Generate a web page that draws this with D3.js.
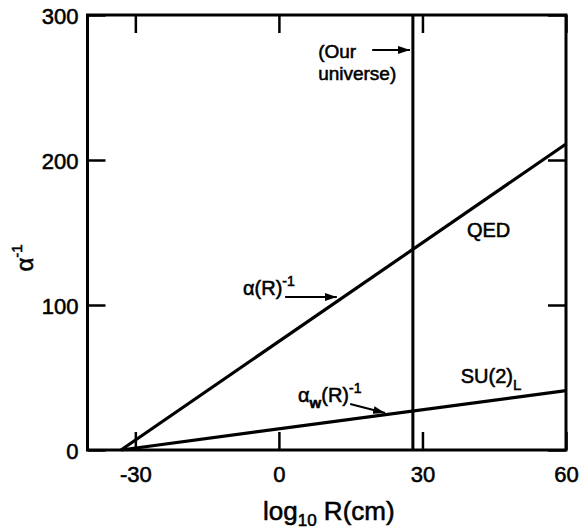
<!DOCTYPE html>
<html>
<head>
<meta charset="utf-8">
<script src="https://cdn.jsdelivr.net/npm/d3@7"></script>
<style>
  html, body { margin: 0; padding: 0; background: #fff; }
  svg { display: block; font-family: "Liberation Sans", Arial, Helvetica, sans-serif; }
  svg text { stroke: #000; stroke-width: 0.55px; }
</style>
</head>
<body>
<svg id="chart" width="584" height="529"></svg>
<script>
// Axis ticks
const xTicks = [-30, 0, 30, 60];
const yTicks = [0, 100, 200, 300];

// Inverse couplings vs. log10 of length scale R (cm)
const qedX = [-33, 60];
const qedY = [0, 211];
const su2X = [-33, 60];
const su2Y = [0, 41];

// Present-day universe size, log10 R(cm)
const universeX = 28;

const width = 584, height = 529;
const plot = { left: 87.5, right: 566, top: 15, bottom: 450 };

const svg = d3.select("#chart");
const x = d3.scaleLinear().domain([-40, 60]).range([plot.left, plot.right]);
const y = d3.scaleLinear().domain([0, 300]).range([plot.bottom, plot.top]);

// Arrowhead marker
svg.append("defs").append("marker")
  .attr("id", "head")
  .attr("markerUnits", "userSpaceOnUse")
  .attr("viewBox", "0 0 12 8")
  .attr("refX", 12).attr("refY", 4)
  .attr("markerWidth", 12).attr("markerHeight", 8)
  .attr("orient", "auto")
  .append("path").attr("d", "M0,0 L12,4 L0,8 Z").attr("fill", "#000");

// Axes with inward ticks on all four sides
function styleAxis(g) {
  g.select(".domain").remove();
  g.selectAll(".tick line").attr("stroke", "#000").attr("stroke-width", 2.5);
  g.selectAll("text").attr("fill", "#000").style("font-size", "22px");
}

svg.append("g").attr("transform", `translate(0,${plot.bottom})`)
  .call(d3.axisBottom(x).tickValues(xTicks).tickSize(-18).tickPadding(16).tickFormat(d3.format("d")))
  .call(styleAxis)
  .selectAll("text").text(d => d < 0 ? "-" + Math.abs(d) : d);

svg.append("g").attr("transform", `translate(0,${plot.top})`)
  .call(d3.axisTop(x).tickValues(xTicks).tickSize(-18).tickFormat(""))
  .call(styleAxis);

svg.append("g").attr("transform", `translate(${plot.left},0)`)
  .call(d3.axisLeft(y).tickValues(yTicks).tickSize(-18).tickPadding(9))
  .call(styleAxis)
  .selectAll("text").attr("dy", "0.4em");

svg.append("g").attr("transform", `translate(${plot.right},0)`)
  .call(d3.axisRight(y).tickValues(yTicks).tickSize(-18).tickFormat(""))
  .call(styleAxis);

// Frame
svg.append("rect")
  .attr("x", plot.left).attr("y", plot.top)
  .attr("width", plot.right - plot.left).attr("height", plot.bottom - plot.top)
  .attr("fill", "none").attr("stroke", "#000").attr("stroke-width", 3);

// Coupling lines
const line = d3.line().x(d => x(d[0])).y(d => y(d[1]));
svg.append("path").datum(d3.zip(qedX, qedY)).attr("d", line)
  .attr("fill", "none").attr("stroke", "#000").attr("stroke-width", 3.2);
svg.append("path").datum(d3.zip(su2X, su2Y)).attr("d", line)
  .attr("fill", "none").attr("stroke", "#000").attr("stroke-width", 3.2);

// Our universe marker
svg.append("line")
  .attr("x1", x(universeX)).attr("x2", x(universeX))
  .attr("y1", y(300)).attr("y2", y(0))
  .attr("stroke", "#000").attr("stroke-width", 3);

// Annotations (positions in data units)
const ann = svg.append("g").attr("fill", "#000").style("font-size", "20px");

ann.append("text").attr("x", x(8.2)).attr("y", y(270.3)).style("font-size", "19px").text("(Our");
ann.append("text").attr("x", x(8.2)).attr("y", y(255.2)).style("font-size", "19px").text("universe)");
svg.append("line")
  .attr("x1", x(19.5)).attr("y1", y(275.9)).attr("x2", x(27.4)).attr("y2", y(275.9))
  .attr("stroke", "#000").attr("stroke-width", 2).attr("marker-end", "url(#head)");

ann.append("text").attr("x", x(39.3)).attr("y", y(146.9)).text("QED");

const a1 = ann.append("text").attr("x", x(-7.5)).attr("y", y(106.9));
a1.append("tspan").text("α(R)");
a1.append("tspan").attr("dy", -9).style("font-size", "14px").text("-1");
svg.append("line")
  .attr("x1", x(1.3)).attr("y1", y(105.5)).attr("x2", x(12.1)).attr("y2", y(105.5))
  .attr("stroke", "#000").attr("stroke-width", 2).attr("marker-end", "url(#head)");

const a2 = ann.append("text").attr("x", x(4.0)).attr("y", y(33.1));
a2.append("tspan").text("α");
a2.append("tspan").attr("dy", 6).style("font-size", "15px").style("font-weight", "bold").text("w");
a2.append("tspan").attr("dy", -6).text("(R)");
a2.append("tspan").attr("dy", -9).style("font-size", "14px").text("-1");
svg.append("line")
  .attr("x1", x(14.9)).attr("y1", y(31.7)).attr("x2", x(22.2)).attr("y2", y(25.5))
  .attr("stroke", "#000").attr("stroke-width", 2).attr("marker-end", "url(#head)");

const a3 = ann.append("text").attr("x", x(38.0)).attr("y", y(46.2));
a3.append("tspan").text("SU(2)");
a3.append("tspan").attr("dy", 7).style("font-size", "15px").text("L");

// Axis titles
const xt = svg.append("text").attr("x", 263).attr("y", 520)
  .attr("fill", "#000").style("font-size", "26px");
xt.append("tspan").text("log");
xt.append("tspan").attr("dy", 6).style("font-size", "17px").text("10");
xt.append("tspan").attr("dy", -6).text(" R(cm)");

const yt = svg.append("text")
  .attr("transform", "translate(33,258) rotate(-90)")
  .attr("text-anchor", "middle")
  .attr("fill", "#000").style("font-size", "24px");
yt.append("tspan").text("α");
yt.append("tspan").attr("dy", -11).style("font-size", "15px").text("-1");
</script>
</body>
</html>
